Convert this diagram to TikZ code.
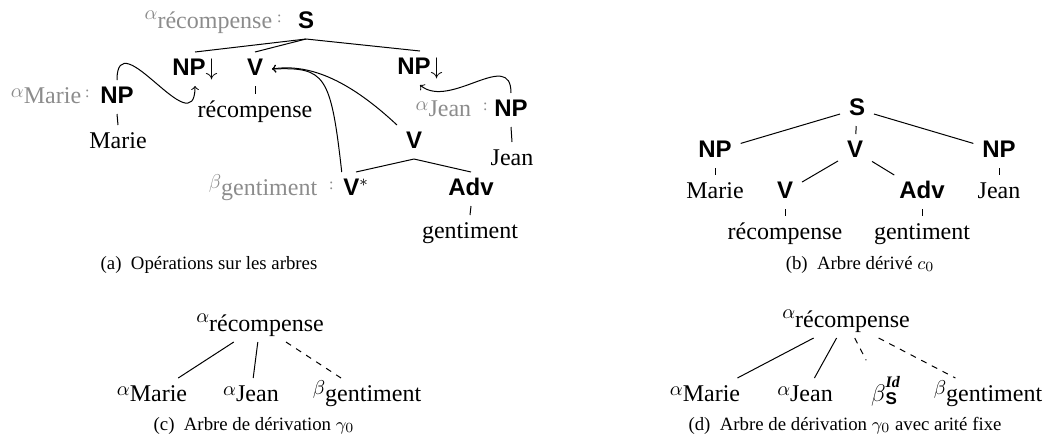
\documentclass[tikz,border=0pt]{standalone}
\usepackage{fontspec}
\setmainfont{Liberation Serif}
\newfontfamily\hvfont{Liberation Sans}
\newcommand\lb[1]{{\hvfont\bfseries #1}}
\newcommand\gk[3][3pt]{\raisebox{#1}{\fontsize{10}{12}\selectfont$#2$}#3}
\newcommand\gcolon{\raisebox{3pt}{\fontsize{8}{9}\selectfont:}}
\newcommand\bId{$\beta$\rlap{\raisebox{6.8pt}{\fontsize{8}{9}\selectfont\bfseries\itshape Id}}\raisebox{-1.5pt}{\fontsize{8.5}{9}\selectfont\hvfont\bfseries S}}
\begin{document}
\begin{tikzpicture}[x=0.5pt,y=-0.5pt,
  font=\fontsize{12}{14}\selectfont,
  tn/.style={inner xsep=4.5pt,inner ysep=3pt,text height=8.5pt,text depth=2.5pt,outer sep=0pt,anchor=base},
  gl/.style={text=black!45,inner sep=0pt,anchor=base east},
  captxt/.style={font=\fontsize{9.4}{11}\selectfont,inner sep=0pt,anchor=base},
  ed/.style={line width=0.5pt},
  arr/.style={->,line width=0.5pt}]
\useasboundingbox (0,0) rectangle (1047,441);

% ---------- (a) ----------
\node[tn] (aS) at (306,28) {\lb{S}};
\node[gl] (aSl) at (282,28) {\gk[4.5pt]{\alpha}{récompense}\hspace{2.5pt}\gcolon};
\node[tn] (aNPl) at (195,75) {\lb{NP}$\downarrow$};
\node[tn] (aV) at (255,75) {\lb{V}};
\node[tn] (aNPr) at (420,74) {\lb{NP}$\downarrow$};
\node[tn] (arec) at (255,117) {récompense};
\node[tn] (aNPm) at (117,103) {\lb{NP}};
\node[gl] (aMl) at (90,103) {\gk{\alpha}{Marie}\hspace{2pt}\gcolon};
\node[tn] (aMarie) at (118,148) {Marie};
\node[tn] (aNPj) at (511,116) {\lb{NP}};
\node[gl] (aJl) at (488,116) {\gk{\alpha}{Jean}\hspace{6pt}\gcolon};
\node[tn] (aJean) at (512,165) {Jean};
\node[tn] (aVm) at (414,148) {\lb{V}};
\node[tn] (aVs) at (356,195) {\lb{V}$^*$};
\node[gl] (aGl) at (334,195) {\gk[3.5pt]{\beta}{gentiment}\hspace{6pt}\gcolon};
\node[tn] (aAdv) at (471,195) {\lb{Adv}};
\node[tn] (agent) at (470,238) {gentiment};

\draw[ed] (aS.south) -- (aNPl.north);
\draw[ed] (aS.south) -- (aV.north);
\draw[ed] (aS.south) -- (aNPr.north);
\draw[ed] (aV.south) -- (arec.north);
\draw[ed] (aNPm.south) -- (aMarie.north);
\draw[ed] (aNPj.south) -- (aJean.north);
\draw[ed] (aVm.south) -- (aVs.north);
\draw[ed] (aVm.south) -- (aAdv.north);
\draw[ed] (aAdv.south) -- (agent.north);

\draw[arr] (aNPm.north) .. controls +(0,-60) and +(0,60) .. (aNPl.south);
\draw[arr] (aNPj.north) .. controls +(0,-45) and +(30,25) .. (aNPr.south);
\draw[arr] (aVm.north west) .. controls +(-45,-42) and +(40,-6) .. (aV.east);
\draw[arr] (aVs.130) .. controls +(-11,-98) and +(53,-2) .. (aV.east);

\node[captxt] (capa) at (209,269) {(a)\hspace{0.5em}Opérations sur les arbres};

% ---------- (b) ----------
\node[tn] (bS) at (857,115) {\lb{S}};
\node[tn] (bNPm) at (715,157) {\lb{NP}};
\node[tn] (bV) at (855,157) {\lb{V}};
\node[tn] (bNPj) at (999,157) {\lb{NP}};
\node[tn] (bMarie) at (715,198) {Marie};
\node[tn] (bVl) at (785,198) {\lb{V}};
\node[tn] (bAdv) at (922,198) {\lb{Adv}};
\node[tn] (bJean) at (999,198) {Jean};
\node[tn] (brec) at (785,239) {récompense};
\node[tn] (bgent) at (922,239) {gentiment};

\draw[ed] (bS) -- (bNPm);
\draw[ed] (bS) -- (bV);
\draw[ed] (bS) -- (bNPj);
\draw[ed] (bNPm) -- (bMarie);
\draw[ed] (bNPj) -- (bJean);
\draw[ed] (bV) -- (bVl);
\draw[ed] (bV) -- (bAdv);
\draw[ed] (bVl) -- (brec);
\draw[ed] (bAdv) -- (bgent);

\node[captxt] (capb) at (860,269) {(b)\hspace{0.5em}Arbre dérivé $c_0$};

% ---------- (c) ----------
\node[tn] (cR) at (260,331) {\gk[4.5pt]{\alpha}{récompense}};
\node[tn] (cM) at (152,401) {\gk{\alpha}{Marie}};
\node[tn] (cJ) at (251,401) {\gk{\alpha}{Jean}};
\node[tn] (cG) at (367,401) {\gk[3.5pt]{\beta}{gentiment}};

\draw[ed] (cR) -- (cM);
\draw[ed] (cR) -- (cJ);
\draw[ed,dashed] (cR) -- (cG);

\node[captxt] (capc) at (254,430) {(c)\hspace{0.5em}Arbre de dérivation $\gamma_0$};

% ---------- (d) ----------
\node[tn] (dR) at (846,327) {\gk[4.5pt]{\alpha}{récompense}};
\node[tn] (dM) at (705,401) {\gk{\alpha}{Marie}};
\node[tn] (dJ) at (805,401) {\gk{\alpha}{Jean}};
\node[tn] (dB) at (884,401) {\bId};
\node[tn] (dG) at (988,401) {\gk[3.5pt]{\beta}{gentiment}};

\draw[ed] (dR) -- (dM);
\draw[ed] (dR) -- (dJ);
\draw[ed,dashed,shorten >=10pt] (dR) -- (dB);
\draw[ed,dashed] (dR) -- (dG);

\node[captxt] (capd) at (845,430) {(d)\hspace{0.5em}Arbre de dérivation $\gamma_0$ avec arité fixe};
\end{tikzpicture}
\end{document}
